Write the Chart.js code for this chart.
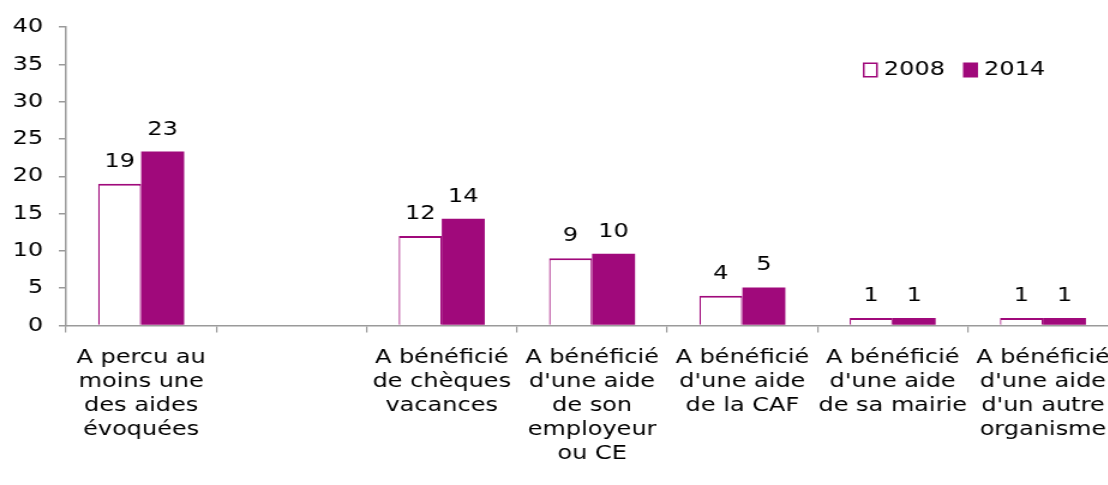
<!DOCTYPE html>
<html>
<head>
<meta charset="utf-8">
<script src="https://cdn.jsdelivr.net/npm/chart.js@4.4.1/dist/chart.umd.min.js"></script>
<style>
  html, body { margin: 0; padding: 0; background: #fff; overflow: hidden; }
  #wrap { width: 1108px; height: 485px; overflow: hidden; position: relative; }
</style>
</head>
<body>
<div id="wrap">
  <!-- the source picture is stretched ~1.2x horizontally, so the canvas is too -->
  <canvas id="chart" width="940" height="485" style="width:1128px;height:485px"></canvas>
</div>
<script>
var categories = [
  ['A percu au', 'moins une', 'des aides', 'évoquées'],
  '',
  ['A bénéficié', 'de chèques', 'vacances'],
  ['A bénéficié', "d'une aide", 'de son', 'employeur', 'ou CE'],
  ['A bénéficié', "d'une aide", 'de la CAF'],
  ['A bénéficié', "d'une aide", 'de sa mairie'],
  ['A bénéficié', "d'une aide", "d'un autre", 'organisme']
];
var seriesNames = ['2008', '2014'];
var values2008 = [19, null, 12, 9, 4, 1, 1];
var values2014 = [23.3, null, 14.3, 9.6, 5.1, 1, 1];
var yTicks = [0, 5, 10, 15, 20, 25, 30, 35, 40];

var purple = '#A0097B';
var axisGrey = '#9a9a9a';

Chart.defaults.font.family = "'DejaVu Sans', Verdana, sans-serif";
Chart.defaults.font.size = 20;
Chart.defaults.color = '#000';

// numbers above the bars (rounded, as in the source)
var valueLabels = {
  id: 'valueLabels',
  afterDatasetsDraw: function (chart) {
    var ctx = chart.ctx;
    ctx.save();
    ctx.font = "20px 'DejaVu Sans', Verdana, sans-serif";
    ctx.fillStyle = '#000';
    ctx.textAlign = 'center';
    ctx.textBaseline = 'alphabetic';
    chart.data.datasets.forEach(function (ds, i) {
      var meta = chart.getDatasetMeta(i);
      meta.data.forEach(function (bar, j) {
        var v = ds.data[j];
        if (v === null || v === undefined) return;
        ctx.fillText(String(Math.round(v)), bar.x, bar.y - 17);
      });
    });
    ctx.restore();
  }
};

// legend sits inside the plot, top right
var cornerLegend = {
  id: 'cornerLegend',
  afterDraw: function (chart) {
    var ctx = chart.ctx;
    var x = 719, y = 70;
    ctx.save();
    ctx.font = "20px 'DejaVu Sans', Verdana, sans-serif";
    ctx.textBaseline = 'middle';
    ctx.textAlign = 'left';
    chart.data.datasets.forEach(function (ds) {
      if (ds.backgroundColor === '#fff') {
        ctx.fillStyle = '#fff';
        ctx.fillRect(x, y - 7.5, 12.5, 15);
        ctx.strokeStyle = purple;
        ctx.lineWidth = 1.5;
        ctx.strokeRect(x + 0.75, y - 6.75, 11, 13.5);
      } else {
        ctx.fillStyle = ds.backgroundColor;
        ctx.fillRect(x, y - 7.5, 12.5, 15);
      }
      ctx.fillStyle = '#000';
      ctx.fillText(ds.label, x + 17.5, y);
      x += 83.5;
    });
    ctx.restore();
  }
};

new Chart(document.getElementById('chart'), {
  type: 'bar',
  data: {
    labels: categories,
    datasets: [{
      label: seriesNames[0],
      data: values2008,
      backgroundColor: '#fff',
      borderColor: purple,
      borderWidth: { top: 2, left: 1.2, right: 1.2, bottom: 0 },
      borderSkipped: 'start'
    }, {
      label: seriesNames[1],
      data: values2014,
      backgroundColor: purple,
      borderWidth: 0
    }]
  },
  options: {
    responsive: false,
    animation: false,
    devicePixelRatio: 1,
    categoryPercentage: 0.572,
    barPercentage: 1,
    layout: { padding: { top: 27, right: 8.25, left: 0, bottom: 0 } },
    plugins: {
      legend: { display: false },
      tooltip: { enabled: false }
    },
    scales: {
      x: {
        grid: { offset: true, drawOnChartArea: false, tickLength: 7, color: axisGrey, lineWidth: 1.2 },
        border: { color: axisGrey, width: 1.5 },
        ticks: { autoSkip: false, maxRotation: 0, minRotation: 0, padding: 13, color: '#000' },
        afterFit: function (scale) { scale.height = 159.5; }
      },
      y: {
        min: 0,
        max: 40,
        afterBuildTicks: function (scale) {
          scale.ticks = yTicks.map(function (v) { return { value: v }; });
        },
        grid: { drawOnChartArea: false, tickLength: 6, color: axisGrey, lineWidth: 1.5 },
        border: { color: axisGrey, width: 1.5 },
        ticks: { padding: 13, color: '#000' },
        afterFit: function (scale) { scale.width = 55; }
      }
    }
  },
  plugins: [valueLabels, cornerLegend]
});
</script>
</body>
</html>
